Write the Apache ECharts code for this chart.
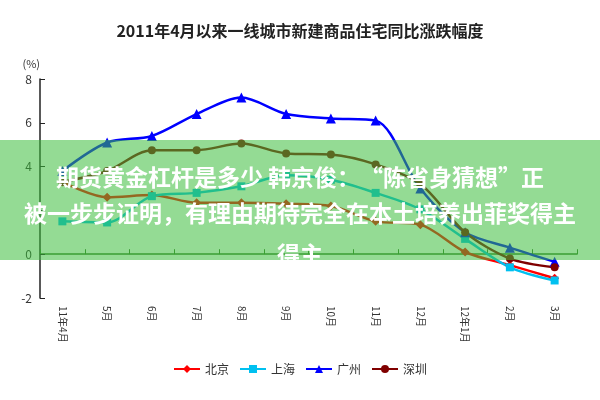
<!DOCTYPE html>
<html><head><meta charset="utf-8">
<script src="https://cdn.jsdelivr.net/npm/echarts@6/dist/echarts.min.js"></script>
<style>html,body{margin:0;padding:0;background:#fff}#c{width:600px;height:400px}</style>
</head><body><div id="c"></div>
<script>
const categories = ['11年4月','5月','6月','7月','8月','9月','10月','11月','12月','12年1月','2月','3月'];
const beijing  = [3.3,2.6,2.7,2.35,2.35,2.3,2.2,1.5,1.35,0.1,-0.5,-1.1];
const shanghai = [1.5,1.45,2.65,2.8,3.1,3.6,3.4,2.8,2.05,0.7,-0.6,-1.2];
const guangzhou= [3.8,5.1,5.4,6.4,7.15,6.4,6.2,6.1,3.0,1.0,0.3,-0.35];
const shenzhen = [3.3,3.8,4.75,4.75,5.05,4.6,4.55,4.1,3.2,1.0,-0.2,-0.6];
const yTicks = [-2,0,2,4,6,8];
const f = '"Noto Sans CJK SC", sans-serif';
const mk = (name, data, color, symbol, size) => ({
  name, type:'line', data, smooth:0.3, symbol, symbolSize:size,
  lineStyle:{color, width:2.5}, itemStyle:{color}
});
const chart = echarts.init(document.getElementById('c'));
chart.setOption({
  animation:false,
  title:{text:'2011年4月以来一线城市新建商品住宅同比涨跌幅度', left:'center', top:18,
    textStyle:{fontFamily:f, fontSize:16, fontWeight:'bold', color:'#222'}},
  legend:{bottom:20, itemGap:10, itemWidth:26, itemHeight:10,
    textStyle:{fontFamily:f, fontSize:12, color:'#333'},
    data:['北京','上海','广州','深圳']},
  grid:{left:40, right:23, top:79, bottom:102},
  xAxis:{type:'category', data:categories, boundaryGap:true,
    axisLine:{onZero:true, lineStyle:{color:'#3a7a2a', width:1.5}},
    axisTick:{show:true, inside:true, lineStyle:{color:'#3a7a2a'}},
    axisLabel:{rotate:-90, interval:0, fontFamily:f, fontSize:10, color:'#333', margin:8}},
  yAxis:{type:'value', min:yTicks[0], max:yTicks[yTicks.length-1], interval:2,
    name:'(%)', nameLocation:'end', nameGap:10, nameTextStyle:{fontFamily:f, fontSize:11, color:'#333', align:'right'},
    splitLine:{show:false}, axisLine:{show:true, lineStyle:{color:'#222', width:1.5}},
    axisTick:{show:true, inside:true},
    axisLabel:{fontFamily:f, fontSize:12, color:'#333'}},
  series:[
    mk('北京', beijing, '#ff0000', 'diamond', 9),
    mk('上海', shanghai, '#00c0f0', 'rect', 8),
    mk('广州', guangzhou, '#0000ff', 'triangle', 10),
    mk('深圳', shenzhen, '#800000', 'circle', 8)
  ],
  graphic:[
    {type:'rect', left:0, top:140, shape:{width:600, height:120}, z:100,
      style:{fill:'rgba(60,190,60,0.55)'}},
    {type:'text', left:'center', top:166, z:101, style:{text:'期货黄金杠杆是多少 韩京俊：“陈省身猜想”正', fill:'#fff', font:'bold 23px "Noto Sans CJK SC"'}},
    {type:'text', left:'center', top:202, z:101, style:{text:'被一步步证明，有理由期待完全在本土培养出菲奖得主', fill:'#fff', font:'bold 23px "Noto Sans CJK SC"'}},
    {type:'text', left:'center', top:243, z:101, style:{text:'得主', fill:'#fff', font:'bold 23px "Noto Sans CJK SC"'}}
  ]
});
</script></body></html>
